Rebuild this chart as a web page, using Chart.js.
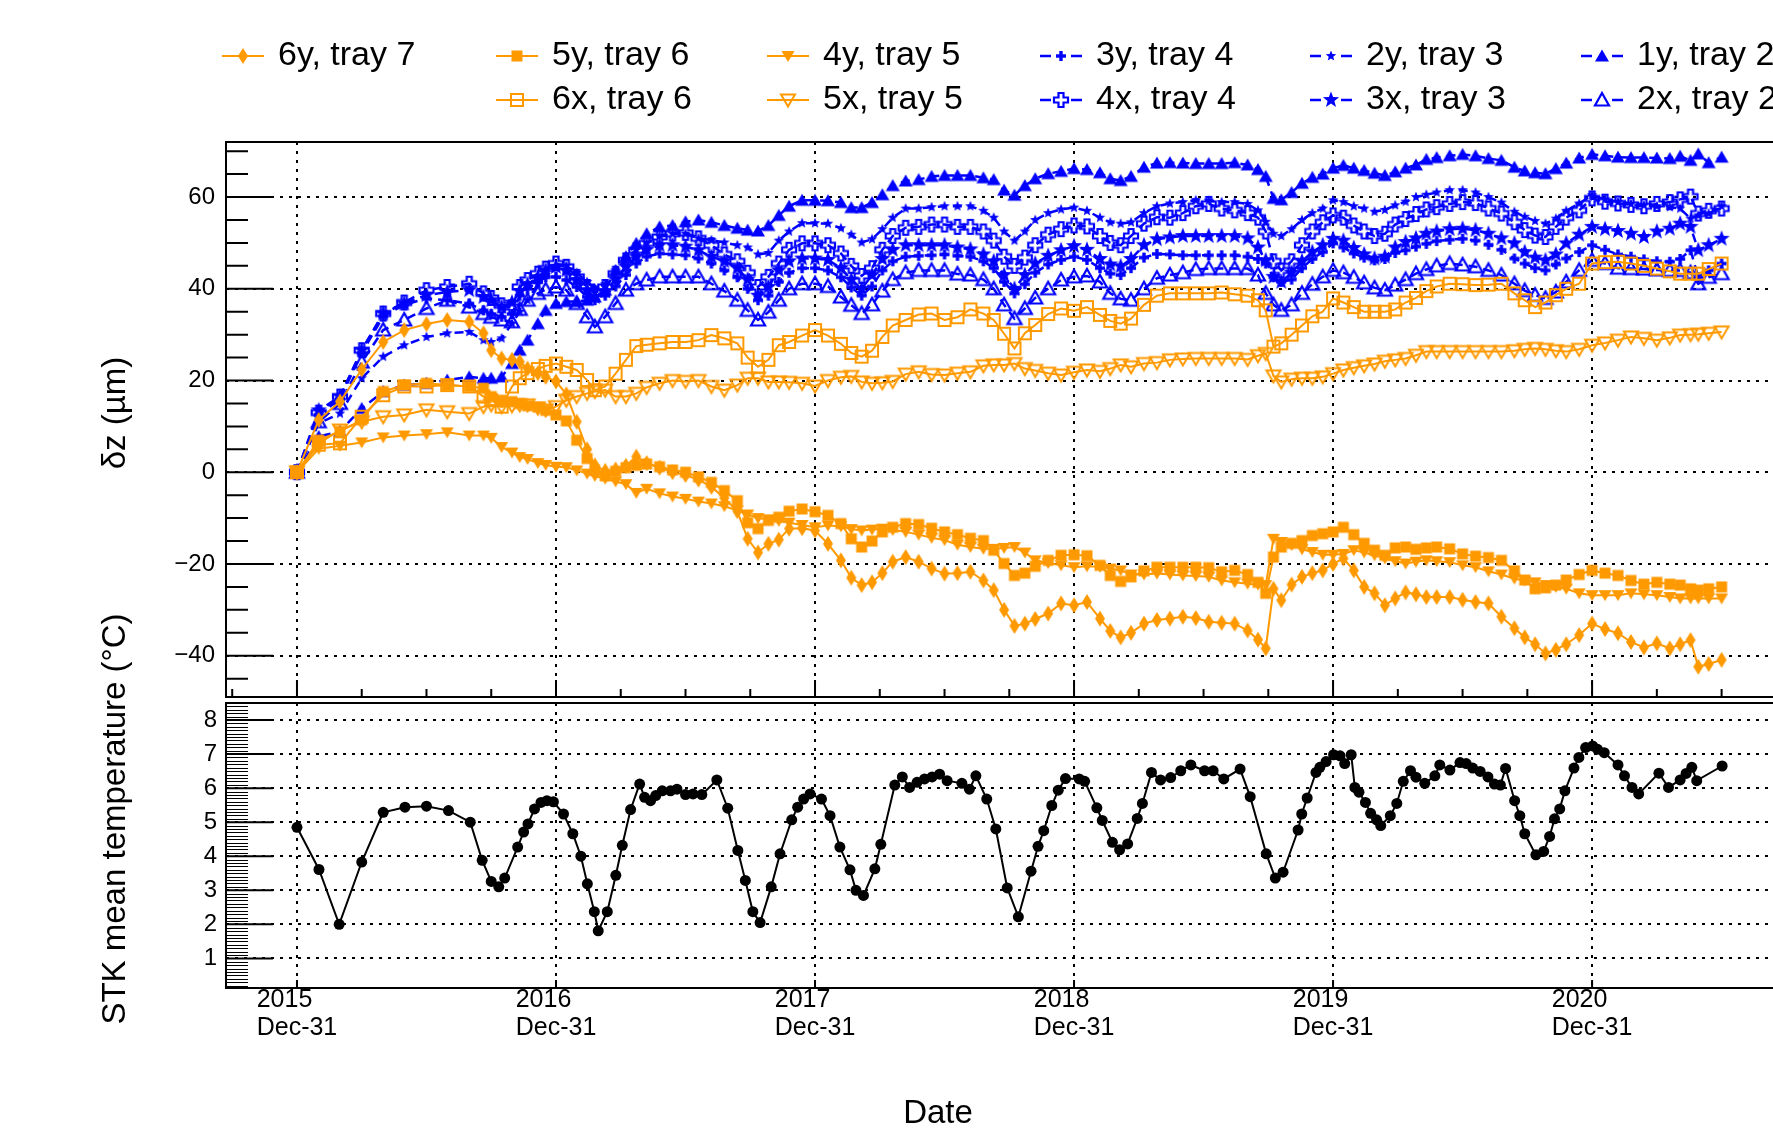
<!DOCTYPE html>
<html>
<head>
<meta charset="utf-8">
<script src="https://cdn.jsdelivr.net/npm/chart.js@4.4.0/dist/chart.umd.min.js"></script>
<style>
  html, body { margin: 0; padding: 0; background: #fff; overflow: hidden; }
  #wrap { position: relative; width: 1773px; height: 1133px; overflow: hidden; background: #fff; }
  #wrap canvas { position: absolute; left: 0; top: 0; }
</style>
</head>
<body>
<div id="wrap">
  <canvas id="tempChart" width="1880" height="1133"></canvas>
  <canvas id="dzChart" width="1880" height="1133"></canvas>
</div>
<script>
// ---- data (x = years after 2015 Dec-31) ----
const yearTicks = [0, 1, 2, 3, 4, 5, 6];
const yearLabels = ["2015", "2016", "2017", "2018", "2019", "2020", "2021"];
const dayLabel = "Dec-31";
const dzTicks = [-40, -20, 0, 20, 40, 60];
const tempTicks = [1, 2, 3, 4, 5, 6, 7, 8];

const dzYears = [
  0, 0.084, 0.166, 0.25, 0.333, 0.414, 0.5, 0.58, 0.665, 0.72,
  0.75, 0.79, 0.83, 0.86, 0.89, 0.93, 0.96, 1.0, 1.04, 1.08,
  1.12, 1.15, 1.19, 1.23, 1.27, 1.31, 1.35, 1.4, 1.45, 1.5,
  1.55, 1.6, 1.65, 1.7, 1.74, 1.78, 1.82, 1.86, 1.9, 1.95,
  2.0, 2.05, 2.1, 2.14, 2.18, 2.22, 2.26, 2.3, 2.35, 2.4,
  2.45, 2.5, 2.55, 2.6, 2.65, 2.69, 2.73, 2.77, 2.81, 2.85,
  2.9, 2.95, 3.0, 3.05, 3.1, 3.14, 3.18, 3.22, 3.27, 3.32,
  3.37, 3.42, 3.47, 3.52, 3.57, 3.62, 3.67, 3.71, 3.74, 3.77,
  3.8, 3.84, 3.88, 3.92, 3.96, 4.0, 4.04, 4.08, 4.12, 4.16,
  4.2, 4.24, 4.28, 4.32, 4.36, 4.4, 4.45, 4.5, 4.55, 4.6,
  4.65, 4.7, 4.74, 4.78, 4.82, 4.86, 4.9, 4.95, 5.0, 5.05,
  5.1, 5.15, 5.2, 5.25, 5.3, 5.34, 5.38, 5.41, 5.45, 5.5
];

const y6Tray7 = [
  0, 11.4, 15.4, 22.4, 28.4, 31, 32.3, 33.2, 32.8, 30.3,
  26.6, 24.8, 24.5, 24.1, 22.6, 21.6, 20.8, 19.8, 17, 11,
  5, 1.5, 0.3, 0.6, 1.4, 3.4, 2, 1, 0, -0.6,
  -1.6, -3.2, -5.6, -8.5, -14.5, -17.5, -15.6, -14.7, -12.3, -12.2,
  -12.7, -15.6, -19.2, -23, -24.6, -24, -22, -19.5, -18.5, -19.5,
  -21, -22.1, -22, -21.7, -23.6, -25.7, -30, -33.5, -33, -32,
  -30.8, -28.6, -29, -28.3, -31.9, -34.6, -36, -35, -33, -32.2,
  -31.9, -31.5, -31.8, -32.6, -32.8, -33, -34.5, -36.5, -38.4, -25.4,
  -27.9, -24.5, -22.8, -22, -21.4, -20, -18.8, -21.4, -25, -26.4,
  -29, -27.5, -26.2, -26.6, -27.2, -27.2, -27.2, -27.8, -28.3, -28.6,
  -31.5, -34, -36, -37.5, -39.5, -38.7, -37.5, -35.5, -33, -34.2,
  -35.1, -37, -38.2, -37.3, -38.4, -37.5, -36.6, -42.4, -41.8, -40.9
];
const y5Tray6 = [
  0, 7, 8.9, 11.4, 17.6, 19, 19.4, 19, 18.7, 18.3,
  16.5, 15.7, 15.4, 15, 14.5, 14.2, 13.5, 12.5, 11.2, 7,
  3, 0.4, -0.8, 0.2, 1, 1.5, 1.8, 1.2, 0.5, 0,
  -1, -2.2, -4, -6.2, -11, -12.3, -10.5, -9.8, -8.5, -8,
  -8.6, -9.4, -11.2, -14.5, -16.3, -15, -13, -12, -11.2, -11.4,
  -12.2, -13, -13.6, -14.4, -14.9, -17, -19.9, -22.5, -22, -20.5,
  -19.2, -18.1, -18, -18.2, -20.3, -22.5, -23.8, -22.8, -21.5, -20.7,
  -20.7, -20.7, -20.7, -20.8, -21.7, -21.4, -22.3, -24, -26.4, -18.5,
  -16.3, -15.5, -14.9, -13.8, -13.4, -13, -12, -13.6, -15.5, -17,
  -18.1, -16.5, -16.3, -16.8, -16.5, -16.3, -16.7, -17.8, -18.3, -18.6,
  -19.2, -21.5, -23.5, -25.4, -25.2, -24.6, -23.5, -22.3, -21.4, -22,
  -22.5, -23.6, -24.4, -24, -24.4, -24.6, -25.4, -25.7, -25.4, -25
];
const y4Tray5 = [
  0, 5.1, 5.8, 6.5, 7.6, 8, 8.3, 8.7, 8, 8,
  7.5, 5.5, 4.3, 3.3, 2.9, 2, 1.6, 1.2, 1.1, 0.4,
  -0.3, -0.8, -1.4, -2, -2.6, -4.5, -3.6, -4.6, -5.3, -5.8,
  -6.4, -6.8, -7.4, -8.3, -9.2, -10, -10.3, -10.6, -11, -11.5,
  -12, -11.6, -11.8, -12.4, -12.7, -12.5, -12.3, -12.6, -13, -13.6,
  -14.3, -14.8, -15.8, -16.3, -16.7, -16.7, -16.5, -16.3, -17.5, -19.2,
  -19.8, -20.3, -20.7, -20.5, -20.6, -21, -21.4, -22.3, -22.3, -22.1,
  -22.3, -22.5, -22.6, -22.8, -23.6, -24, -24.3, -24.5, -24.6, -14.5,
  -15.2, -15.9, -16.8, -17.4, -18, -18, -17.8, -17, -17.5, -18.1,
  -18.8, -19.4, -19.9, -19.5, -19.2, -19.4, -19.6, -20.3, -20.7, -21.6,
  -22.3, -23.2, -23.6, -24, -24.6, -25, -25.4, -26.4, -26.8, -26.8,
  -26.8, -26.4, -26.6, -26.8, -27.2, -27.5, -27.5, -27.5, -27.5, -27.5
];
const x6Tray6 = [
  0, 6, 6.3, 12.1, 16.8, 18.7, 18.7, 19, 18.7, 16.5,
  15.7, 14.3, 18.7, 20.5, 21.6, 22.5, 23.2, 23.7, 23, 22.3,
  20.1, 17.9, 18.7, 21.5, 24.5, 27.5, 27.8, 28.1, 28.4, 28.4,
  28.8, 29.9, 29.2, 28.1, 25, 23, 24.5, 27.7, 28.4, 29.8,
  31, 29.8, 28, 26, 25.2, 26.5, 29.5, 32, 33.2, 34.4,
  34.6, 33.2, 33.8, 35.5, 34.6, 33.2, 30.2, 27, 30.3, 32.1,
  34.5, 35.7, 35.2, 36, 34.3, 33, 32.4, 33.5, 36.5, 38.5,
  39, 39, 39, 39, 39.2, 38.8, 38.5, 37.5, 35.3, 27.4,
  28.1, 30, 32, 34, 35, 37.9, 37, 36, 35, 35,
  35, 35.5, 37, 38, 39.5, 40.5, 41.1, 41, 40.8, 40.9,
  41.1, 39, 37.5, 36, 37, 38.6, 40, 41.1, 45.5, 45.8,
  45.9, 45.5, 45, 44.4, 43.8, 43.3, 43.3, 43.3, 44.3, 45.5
];
const x5Tray5 = [
  0, 6.3, 9.2, 11, 12.1, 12.5, 13.6, 13.2, 12.8, 14.3,
  14.7, 14.3, 14.5, 14.7, 14.7, 14, 13.6, 14.3, 15.7, 16.5,
  17.2, 17.6, 17.9, 16.5, 16.5, 17.2, 18.5, 19.4, 20, 19.8,
  20, 18.7, 17.9, 19, 20.5, 20.5, 19.7, 19.7, 19.6, 19.4,
  18.8, 20, 20.7, 20.9, 19.7, 19.4, 19.5, 19.8, 21.4, 21.9,
  21.3, 21.2, 21.6, 21.9, 23.2, 23.4, 23.4, 23.7, 22.6, 22.2,
  21.6, 21.2, 21.8, 22.3, 22, 22.6, 23.4, 23, 23.7, 23.9,
  24.5, 24.7, 24.8, 24.8, 24.8, 24.8, 24.6, 25.4, 25.9, 21,
  19.7, 20.3, 20.5, 20.5, 20.8, 21.5, 22.3, 22.8, 23.2, 23.6,
  24.2, 24.5, 24.8, 25.5, 26.3, 26.3, 26.3, 26.3, 26.3, 26.3,
  26.3, 26.5, 26.8, 27, 26.8, 26.5, 26.3, 26.8, 27.7, 28.2,
  28.8, 29.5, 29.2, 28.8, 29.3, 29.9, 30, 30.1, 30.3, 30.6
];
const y3Tray4 = [
  0, 12.5, 16, 26, 34, 36.5, 37.9, 37.5, 36.8, 35.3,
  34.5, 33.9, 34.5, 38.5, 40, 41.5, 42.5, 42.6, 41.9, 40.4,
  38.2, 37.5, 38.5, 40.5, 43, 45.5, 47, 47.7, 47.5, 47.3,
  46.6, 45.5, 44, 42.5, 40, 37.5, 38.5, 41.5, 43.5, 44.5,
  44.5, 44, 42.5, 40.3, 38.5, 40.5, 44, 46, 47, 47.2,
  47.3, 47.5, 47.2, 47, 46, 44.5, 41.5, 39, 41, 43.5,
  45.3, 46.3, 47, 46.3, 44.5, 43.3, 43, 44.5, 46.8, 47.6,
  47.5, 47.3, 47.3, 47.3, 47.3, 47.3, 47, 46.5, 45.5, 42.5,
  41.5, 42, 44.5, 46.5, 48, 49.9, 49, 47.7, 46.8, 46.2,
  46.5, 47.8, 48.4, 49.2, 49.8, 50.4, 50.7, 50.9, 50.5, 49.6,
  48.5, 46.6, 45.5, 44.5, 44, 45.3, 46.6, 48, 49.5, 48.5,
  47.5, 47, 46.4, 46, 45.9, 46.5, 48.4, 42.5, 44, 45.5
];
const y2Tray3 = [
  0, 10.7, 12.8, 20.5, 25.2, 27.7, 29.5, 30.3, 30.6, 28.8,
  28.4, 29.2, 32.4, 35, 37.5, 41, 43, 45, 45, 43.5,
  41.5, 40, 41, 44, 46.5, 48.5, 50, 51.5, 52, 52,
  51, 50.6, 50.1, 49.5, 49, 47.5, 47.8, 50.5, 52.5, 54.3,
  54.3, 54.2, 53.2, 51.8, 50.1, 50.8, 53, 55.5, 57.5, 57.5,
  57.8, 58, 58, 58, 57, 55.5, 52.5, 50.5, 52.5, 55,
  56.5, 57.3, 57.7, 57, 55.5, 54.5, 54.2, 54.5, 56.5, 58,
  58.6, 58.9, 59.3, 59.2, 58.9, 58.9, 58.5, 57.1, 54.6, 52,
  51.5, 53, 55, 56.5, 57.5, 59.3, 58.9, 58, 57.5, 56.8,
  57.2, 58.2, 59, 60, 60.5, 61, 61.5, 61.5, 61, 60,
  58.8, 56.8, 55.7, 54.8, 54.2, 55.3, 57, 58.6, 60.4, 59.5,
  58.9, 58.5, 58.2, 58, 57.8, 57.5, 55.3, 56, 56.4, 58
];
const y1Tray2 = [
  0, 7.8, 8.9, 13.9, 17.6, 19, 19.4, 20.1, 20.8, 20.5,
  20.5, 20.8, 23.7, 26.6, 28.8, 32.4, 35.3, 36.8, 37.2, 37.2,
  37.5, 38.2, 39.7, 44, 47, 49.9, 52, 53.5, 53.8, 54.6,
  55, 54.5, 53.8, 53.2, 52.8, 52.6, 53.8, 56, 58, 59.3,
  59.3, 59.2, 58.8, 57.7, 57.7, 58.8, 60.5, 62.5, 63.5, 63.8,
  64.5, 64.7, 64.7, 64.7, 64.2, 63.8, 61.5, 60.4, 62.5, 64,
  65.1, 65.6, 66.2, 66, 65.3, 64, 63.6, 64.5, 66.5, 67.4,
  67.5, 67.4, 67.3, 67.3, 67.3, 67.5, 67, 66, 64.5, 59.7,
  59.4, 61, 63, 64.3, 65, 66.3, 66.9, 66.3, 65.8, 65.2,
  64.7, 65.5, 66.3, 67, 68.2, 68.6, 69, 69.3, 69, 68.4,
  68, 66.5, 65.7, 65.3, 65.1, 66.2, 67.4, 68.5, 69.3, 69,
  68.7, 68.6, 68.6, 68.5, 68.4, 68.9, 68, 69.4, 67.5, 68.7
];
const x4Tray4 = [
  0, 13, 16.5, 26.6, 34.6, 37, 39.7, 40.4, 41.1, 39,
  38, 36.4, 36, 40.4, 41.9, 43.3, 44.4, 45.5, 44.8, 42.6,
  40.4, 39, 40.4, 43.3, 46.2, 48.4, 49.9, 51.3, 52, 52.2,
  51, 49.5, 47.5, 46, 43.5, 40.4, 42.6, 45.5, 48.5, 49.9,
  49.9, 49.5, 47.7, 45, 42.8, 44.5, 48.5, 51.5, 53.3, 53.5,
  54, 54, 53.5, 53.5, 52.5, 50.5, 47, 45, 46.8, 49.5,
  51.8, 53, 53.8, 53.6, 51.5, 50, 49.5, 51.5, 54.2, 55.6,
  55.5, 56.5, 58, 58.5, 57.5, 57.1, 56.5, 55.5, 52.5, 46,
  44, 46, 49.5, 52.5, 54.5, 56, 55.5, 53.8, 52.5, 51.5,
  52, 54, 55.2, 56.3, 57.3, 57.8, 58.5, 58.9, 58.7, 57.5,
  56.4, 54.5, 52.8, 51.6, 51.3, 53.5, 55.5, 57.1, 59.7, 59,
  58.6, 58.3, 58, 58.5, 58.9, 59.5, 60.1, 56.4, 57, 57.5
];
const x3Tray3 = [
  0, 13.5, 16.5, 26.6, 34.6, 36.8, 38.6, 39.3, 39.7, 38.2,
  37.5, 36, 37, 39.5, 41, 42.5, 44, 44.8, 44, 41.9,
  39.7, 38.2, 39.5, 42, 44.8, 47, 48.5, 49.5, 49.5, 49.2,
  48.4, 47, 46, 44.5, 42, 38.5, 40.4, 44, 46, 46.6,
  46.6, 46.3, 44.5, 42, 40, 43, 46.5, 48.5, 49.5, 49.5,
  49.5, 49.5, 49, 48.6, 47.5, 46, 43, 40, 43, 45.5,
  47.2, 48.4, 49.3, 48.5, 46.5, 45.3, 44.9, 46.5, 49.5, 50.8,
  51.2, 51.5, 51.5, 51.5, 51.5, 51.5, 51, 49, 46.2, 42.6,
  41.5, 43.5, 46, 48, 49.5, 50.9, 50.5, 48.9, 47.5, 46.6,
  47, 49, 50.2, 51, 52, 52.5, 53, 53.1, 52.8, 52,
  51, 49.9, 48, 46.8, 46.2, 47.5, 49.9, 51.8, 53.5, 53,
  52.6, 52, 51.3, 52.5, 53.1, 54.2, 53.5, 48.4, 49.5, 50.9
];
const x2Tray2 = [
  0, 11, 15, 24, 31, 33.2, 35.7, 37.5, 36, 34.6,
  33.8, 33.2, 32.8, 35.5, 37.5, 39, 39.8, 40.4, 39.7, 36.8,
  33.9, 31.7, 33.9, 36.8, 39.7, 41.1, 41.9, 42.6, 42.6, 42.6,
  42.6, 41.1, 39.5, 37.5, 35.3, 33.2, 34.9, 37.5, 40, 41.1,
  41.1, 40.5, 38.2, 36.4, 34.6, 36.5, 39.5, 42, 43.5, 44,
  44, 44, 43.2, 43, 42, 40, 36.5, 33.5, 35.7, 38,
  40, 41.9, 42.6, 42.8, 41.5, 39, 37.8, 37.5, 40, 42.3,
  43, 43.5, 44.2, 44.4, 44.4, 44.4, 44.4, 43, 39, 36.5,
  35.3, 36.5, 39, 41, 42.6, 44, 43.5, 42.5, 41.3, 40.2,
  39.7, 40.8, 42, 43.3, 44.2, 45, 45.5, 45.2, 44.8, 44,
  43, 41.1, 39.6, 38.6, 37.9, 39.3, 41.5, 44, 46.2, 45.5,
  44.5, 44.4, 44.3, 44.1, 44, 44, 43.5, 41.1, 42.5, 43.3
];

const tempYears = [
  0, 0.085, 0.163, 0.25, 0.333, 0.417, 0.5, 0.585, 0.669, 0.715,
  0.75, 0.779, 0.802, 0.852, 0.875, 0.892, 0.917, 0.942, 0.965, 0.99,
  1.029, 1.065, 1.096, 1.121, 1.148, 1.163, 1.198, 1.231, 1.256, 1.288,
  1.323, 1.342, 1.365, 1.385, 1.41, 1.442, 1.467, 1.5, 1.529, 1.563,
  1.621, 1.663, 1.702, 1.731, 1.76, 1.788, 1.831, 1.865, 1.91, 1.933,
  1.956, 1.981, 2.025, 2.058, 2.096, 2.135, 2.158, 2.187, 2.231, 2.254,
  2.308, 2.337, 2.365, 2.394, 2.423, 2.452, 2.481, 2.51, 2.567, 2.596,
  2.621, 2.663, 2.698, 2.742, 2.785, 2.834, 2.861, 2.883, 2.914, 2.939,
  2.967, 3.02, 3.041, 3.088, 3.109, 3.148, 3.176, 3.207, 3.244, 3.264,
  3.299, 3.334, 3.373, 3.412, 3.451, 3.504, 3.537, 3.578, 3.641, 3.68,
  3.742, 3.777, 3.807, 3.865, 3.879, 3.9, 3.934, 3.949, 3.973, 4.002,
  4.027, 4.045, 4.07, 4.084, 4.1, 4.125, 4.145, 4.168, 4.184, 4.221,
  4.246, 4.271, 4.299, 4.32, 4.354, 4.393, 4.412, 4.451, 4.49, 4.514,
  4.539, 4.568, 4.598, 4.623, 4.646, 4.666, 4.701, 4.721, 4.74, 4.783,
  4.813, 4.836, 4.855, 4.875, 4.895, 4.93, 4.949, 4.975, 5.002, 5.021,
  5.047, 5.1, 5.125, 5.154, 5.18, 5.258, 5.295, 5.34, 5.363, 5.385,
  5.404, 5.502
];
const tempValues = [
  4.85, 3.61, 2.0, 3.83, 5.29, 5.44, 5.47, 5.34, 5.0, 3.88,
  3.26, 3.1, 3.36, 4.27, 4.71, 4.95, 5.39, 5.58, 5.63, 5.6,
  5.24, 4.66, 4.0, 3.19, 2.37, 1.81, 2.37, 3.44, 4.32, 5.37,
  6.12, 5.73, 5.63, 5.78, 5.92, 5.92, 5.97, 5.81, 5.83, 5.81,
  6.24, 5.41, 4.17, 3.29, 2.37, 2.05, 3.1, 4.07, 5.07, 5.44,
  5.68, 5.83, 5.68, 5.19, 4.27, 3.6, 3.0, 2.85, 3.63, 4.35,
  6.09, 6.33, 6.02, 6.17, 6.27, 6.33, 6.41, 6.22, 6.14, 5.97,
  6.36, 5.68, 4.8, 3.07, 2.22, 3.56, 4.29, 4.75, 5.49, 5.94,
  6.28, 6.27, 6.2, 5.42, 5.05, 4.41, 4.19, 4.36, 5.11, 5.55,
  6.46, 6.24, 6.31, 6.51, 6.68, 6.51, 6.51, 6.27, 6.56, 5.75,
  4.07, 3.36, 3.53, 4.77, 5.24, 5.71, 6.46, 6.61, 6.78, 6.98,
  6.95, 6.72, 6.98, 6.02, 5.88, 5.58, 5.26, 5.07, 4.9, 5.19,
  5.55, 6.2, 6.51, 6.32, 6.14, 6.36, 6.68, 6.53, 6.75, 6.72,
  6.59, 6.49, 6.33, 6.12, 6.09, 6.58, 5.63, 5.19, 4.66, 4.04,
  4.14, 4.58, 5.1, 5.39, 5.92, 6.59, 6.9, 7.19, 7.24, 7.14,
  7.04, 6.68, 6.36, 6.02, 5.83, 6.44, 6.02, 6.24, 6.43, 6.61,
  6.22, 6.65
];

// ---- layout ----
const CANVAS_W = 1880, CANVAS_H = 1133;
const PLOT_LEFT = 226, PLOT_RIGHT = 1855;
const DZ_TOP = 142, DZ_BOTTOM = 697;
const T_TOP = 703, T_BOTTOM = 988;
const X_MIN = -0.274, X_MAX = 6.015;
const FONT = '"Liberation Sans", Arial, Helvetica, sans-serif';
const ORANGE = "#ff9900";
const BLUE = "#0000ff";

// ---- ROOT-like markers as small canvases ----
function makeMarker(size, color, draw) {
  const c = document.createElement("canvas");
  c.width = size;
  c.height = size;
  const g = c.getContext("2d");
  g.translate(size / 2, size / 2);
  g.fillStyle = color;
  g.strokeStyle = color;
  g.lineWidth = 2;
  g.lineJoin = "miter";
  draw(g);
  return c;
}

function starPath(g, ro, ri) {
  g.beginPath();
  for (let k = 0; k < 10; k++) {
    const r = k % 2 === 0 ? ro : ri;
    const a = -Math.PI / 2 + (k * Math.PI) / 5;
    g.lineTo(r * Math.cos(a), r * Math.sin(a));
  }
  g.closePath();
}

const markers = {
  diamond: makeMarker(20, ORANGE, (g) => {
    g.beginPath(); g.moveTo(0, -8); g.lineTo(5, 0); g.lineTo(0, 8); g.lineTo(-5, 0); g.closePath(); g.fill();
  }),
  square: makeMarker(14, ORANGE, (g) => { g.fillRect(-5.5, -5.5, 11, 11); }),
  triDown: makeMarker(16, ORANGE, (g) => {
    g.beginPath(); g.moveTo(-6.5, -5); g.lineTo(6.5, -5); g.lineTo(0, 6); g.closePath(); g.fill();
  }),
  openSquare: makeMarker(18, ORANGE, (g) => { g.strokeRect(-6, -6, 12, 12); }),
  openTriDown: makeMarker(20, ORANGE, (g) => {
    g.beginPath(); g.moveTo(-7, -5.5); g.lineTo(7, -5.5); g.lineTo(0, 6.5); g.closePath(); g.stroke();
  }),
  plus: makeMarker(14, BLUE, (g) => { g.fillRect(-5, -1.7, 10, 3.4); g.fillRect(-1.7, -5, 3.4, 10); }),
  smallStar: makeMarker(14, BLUE, (g) => { starPath(g, 5.5, 2.4); g.fill(); }),
  triUp: makeMarker(16, BLUE, (g) => {
    g.beginPath(); g.moveTo(0, -6.5); g.lineTo(7, 5.5); g.lineTo(-7, 5.5); g.closePath(); g.fill();
  }),
  openCross: makeMarker(20, BLUE, (g) => {
    const a = 2.5, b = 7;
    g.lineWidth = 2.2;
    g.beginPath();
    [[-a, -b], [a, -b], [a, -a], [b, -a], [b, a], [a, a], [a, b], [-a, b], [-a, a], [-b, a], [-b, -a], [-a, -a]]
      .forEach(([px, py]) => g.lineTo(px, py));
    g.closePath(); g.stroke();
  }),
  star: makeMarker(22, BLUE, (g) => { starPath(g, 8.5, 3.6); g.fill(); }),
  openTriUp: makeMarker(20, BLUE, (g) => {
    g.lineWidth = 2.2;
    g.beginPath(); g.moveTo(0, -7); g.lineTo(7, 5.5); g.lineTo(-7, 5.5); g.closePath(); g.stroke();
  }),
};

const dzSeries = [
  { label: "6y, tray 7", values: y6Tray7, color: ORANGE, dashed: false, marker: markers.diamond, slot: [0, 0] },
  { label: "5y, tray 6", values: y5Tray6, color: ORANGE, dashed: false, marker: markers.square, slot: [1, 0] },
  { label: "4y, tray 5", values: y4Tray5, color: ORANGE, dashed: false, marker: markers.triDown, slot: [2, 0] },
  { label: "6x, tray 6", values: x6Tray6, color: ORANGE, dashed: false, marker: markers.openSquare, slot: [1, 1] },
  { label: "5x, tray 5", values: x5Tray5, color: ORANGE, dashed: false, marker: markers.openTriDown, slot: [2, 1] },
  { label: "3y, tray 4", values: y3Tray4, color: BLUE, dashed: true, marker: markers.plus, slot: [3, 0] },
  { label: "2y, tray 3", values: y2Tray3, color: BLUE, dashed: true, marker: markers.smallStar, slot: [4, 0] },
  { label: "1y, tray 2", values: y1Tray2, color: BLUE, dashed: true, marker: markers.triUp, slot: [5, 0] },
  { label: "4x, tray 4", values: x4Tray4, color: BLUE, dashed: true, marker: markers.openCross, slot: [3, 1] },
  { label: "3x, tray 3", values: x3Tray3, color: BLUE, dashed: true, marker: markers.star, slot: [4, 1] },
  { label: "2x, tray 2", values: x2Tray2, color: BLUE, dashed: true, marker: markers.openTriUp, slot: [5, 1] },
];

const legendColX = [243, 517, 788, 1061, 1331, 1602];
const legendRowY = [56, 100];

function fmtTick(v) {
  return String(v).replace("-", "\u2212");
}

function drawFrame(ctx, a) {
  ctx.beginPath();
  ctx.moveTo(a.right + 20, a.top);
  ctx.lineTo(a.left, a.top);
  ctx.lineTo(a.left, a.bottom);
  ctx.lineTo(a.right + 20, a.bottom);
  ctx.stroke();
}

function drawVerticalTitle(ctx, text, x, y) {
  ctx.save();
  ctx.translate(x, y);
  ctx.rotate(-Math.PI / 2);
  ctx.textAlign = "center";
  ctx.textBaseline = "middle";
  ctx.fillText(text, 0, 0);
  ctx.restore();
}

// frame, inner ticks, legend and title of the upper panel
const dzDecor = {
  id: "dzDecor",
  afterDraw(chart) {
    const { ctx, chartArea: a } = chart;
    const x = chart.scales.x, y = chart.scales.y;
    ctx.save();
    ctx.strokeStyle = "#000";
    ctx.fillStyle = "#000";
    ctx.lineWidth = 2;
    drawFrame(ctx, a);

    ctx.beginPath();
    for (let k = -9; k <= 14; k++) {
      const v = k * 5;
      const py = y.getPixelForValue(v);
      if (py < a.top || py > a.bottom) continue;
      ctx.moveTo(a.left, py);
      ctx.lineTo(a.left + (v % 20 === 0 ? 47 : 22), py);
    }
    for (let k = -1; k <= 24; k++) {
      const px = x.getPixelForValue(k / 4);
      if (px < a.left) continue;
      ctx.moveTo(px, a.bottom);
      ctx.lineTo(px, a.bottom - (k % 4 === 0 ? 17 : 8));
    }
    ctx.stroke();

    ctx.font = "33px " + FONT;
    drawVerticalTitle(ctx, "\u03b4z (\u00b5m)", 116, 413);

    // legend
    ctx.font = "34px " + FONT;
    ctx.textAlign = "left";
    ctx.textBaseline = "middle";
    dzSeries.forEach((s) => {
      const cx = legendColX[s.slot[0]];
      const cy = legendRowY[s.slot[1]];
      ctx.strokeStyle = s.color;
      ctx.beginPath();
      if (s.dashed) {
        ctx.lineWidth = 2.5;
        ctx.moveTo(cx - 21, cy); ctx.lineTo(cx - 10, cy);
        ctx.moveTo(cx + 10, cy); ctx.lineTo(cx + 21, cy);
      } else {
        ctx.lineWidth = 2;
        ctx.moveTo(cx - 21, cy); ctx.lineTo(cx + 21, cy);
      }
      ctx.stroke();
      ctx.drawImage(s.marker, cx - s.marker.width / 2, cy - s.marker.height / 2);
      ctx.fillStyle = "#000";
      ctx.fillText(s.label, cx + 35, cy);
    });
    ctx.restore();
  },
};

// frame, ticks, date labels and titles of the lower panel
const tempDecor = {
  id: "tempDecor",
  afterDraw(chart) {
    const { ctx, chartArea: a } = chart;
    const x = chart.scales.x, y = chart.scales.y;
    ctx.save();
    ctx.strokeStyle = "#000";
    ctx.fillStyle = "#000";
    ctx.lineWidth = 2;
    drawFrame(ctx, a);

    // minor ticks are thin, majors as thick as the frame
    ctx.lineWidth = 1.2;
    ctx.beginPath();
    for (let k = 2; k <= 85; k++) {
      if (k % 10 === 0) continue;
      const py = Math.round(y.getPixelForValue(k / 10)) + 0.5;
      if (py < a.top || py > a.bottom) continue;
      ctx.moveTo(a.left, py);
      ctx.lineTo(a.left + 22, py);
    }
    ctx.stroke();
    ctx.lineWidth = 2;
    ctx.beginPath();
    tempTicks.forEach((v) => {
      const py = y.getPixelForValue(v);
      ctx.moveTo(a.left, py);
      ctx.lineTo(a.left + 47, py);
    });
    yearTicks.forEach((v) => {
      const px = x.getPixelForValue(v);
      ctx.moveTo(px, a.bottom);
      ctx.lineTo(px, a.bottom - 8);
    });
    ctx.stroke();

    ctx.font = "25px " + FONT;
    ctx.textAlign = "left";
    ctx.textBaseline = "middle";
    const dayW = ctx.measureText(dayLabel).width;
    yearTicks.forEach((v, i) => {
      const px = x.getPixelForValue(v);
      ctx.fillText(yearLabels[i], px - dayW / 2, 1000);
      ctx.fillText(dayLabel, px - dayW / 2, 1028);
    });

    ctx.font = "33px " + FONT;
    drawVerticalTitle(ctx, "STK mean temperature (\u00b0C)", 116, 819);
    ctx.textAlign = "center";
    ctx.fillText("Date", 938, 1114);
    ctx.restore();
  },
};

function xScale() {
  return {
    type: "linear",
    min: X_MIN,
    max: X_MAX,
    afterBuildTicks: (s) => { s.ticks = yearTicks.map((v) => ({ value: v })); },
    afterFit: (s) => { s.height = 0; },
    ticks: { display: false },
    grid: { color: "#000", lineWidth: 2, drawTicks: false },
    border: { display: false, dash: [3, 6] },
  };
}

function yScale(min, max, ticks, pad) {
  return {
    type: "linear",
    min: min,
    max: max,
    afterBuildTicks: (s) => { s.ticks = ticks.map((v) => ({ value: v })); },
    afterFit: (s) => { s.width = PLOT_LEFT; },
    ticks: {
      color: "#000",
      padding: pad,
      font: { family: FONT, size: 24 },
      callback: (v) => fmtTick(v),
    },
    grid: { color: "#000", lineWidth: 2, drawTicks: false, tickLength: 0 },
    border: { display: false, dash: [3, 6] },
  };
}

// upper panel: delta z
new Chart(document.getElementById("dzChart"), {
  type: "line",
  data: {
    datasets: dzSeries.map((s) => ({
      label: s.label,
      data: dzYears.map((t, i) => ({ x: t, y: s.values[i] })),
      borderColor: s.color,
      backgroundColor: s.color,
      borderWidth: s.dashed ? 2.5 : 2,
      borderDash: s.dashed ? [9, 6] : [],
      pointStyle: s.marker,
      pointRadius: 7,
      tension: 0,
      fill: false,
    })),
  },
  options: {
    responsive: false,
    animation: false,
    events: [],
    layout: {
      autoPadding: false,
      padding: { left: 0, top: DZ_TOP, right: CANVAS_W - PLOT_RIGHT, bottom: CANVAS_H - DZ_BOTTOM },
    },
    plugins: { legend: { display: false }, tooltip: { enabled: false } },
    scales: { x: xScale(), y: yScale(-49, 72, dzTicks, 11) },
  },
  plugins: [dzDecor],
});

// lower panel: mean temperature
new Chart(document.getElementById("tempChart"), {
  type: "line",
  data: {
    datasets: [{
      label: "STK mean temperature",
      data: tempYears.map((t, i) => ({ x: t, y: tempValues[i] })),
      borderColor: "#000",
      backgroundColor: "#000",
      borderWidth: 2,
      pointStyle: "circle",
      pointRadius: 5.5,
      pointBorderWidth: 0,
      tension: 0,
      fill: false,
    }],
  },
  options: {
    responsive: false,
    animation: false,
    events: [],
    layout: {
      autoPadding: false,
      padding: { left: 0, top: T_TOP, right: CANVAS_W - PLOT_RIGHT, bottom: CANVAS_H - T_BOTTOM },
    },
    plugins: { legend: { display: false }, tooltip: { enabled: false } },
    scales: { x: xScale(), y: yScale(0.13, 8.5, tempTicks, 9) },
  },
  plugins: [tempDecor],
});
</script>
</body>
</html>
